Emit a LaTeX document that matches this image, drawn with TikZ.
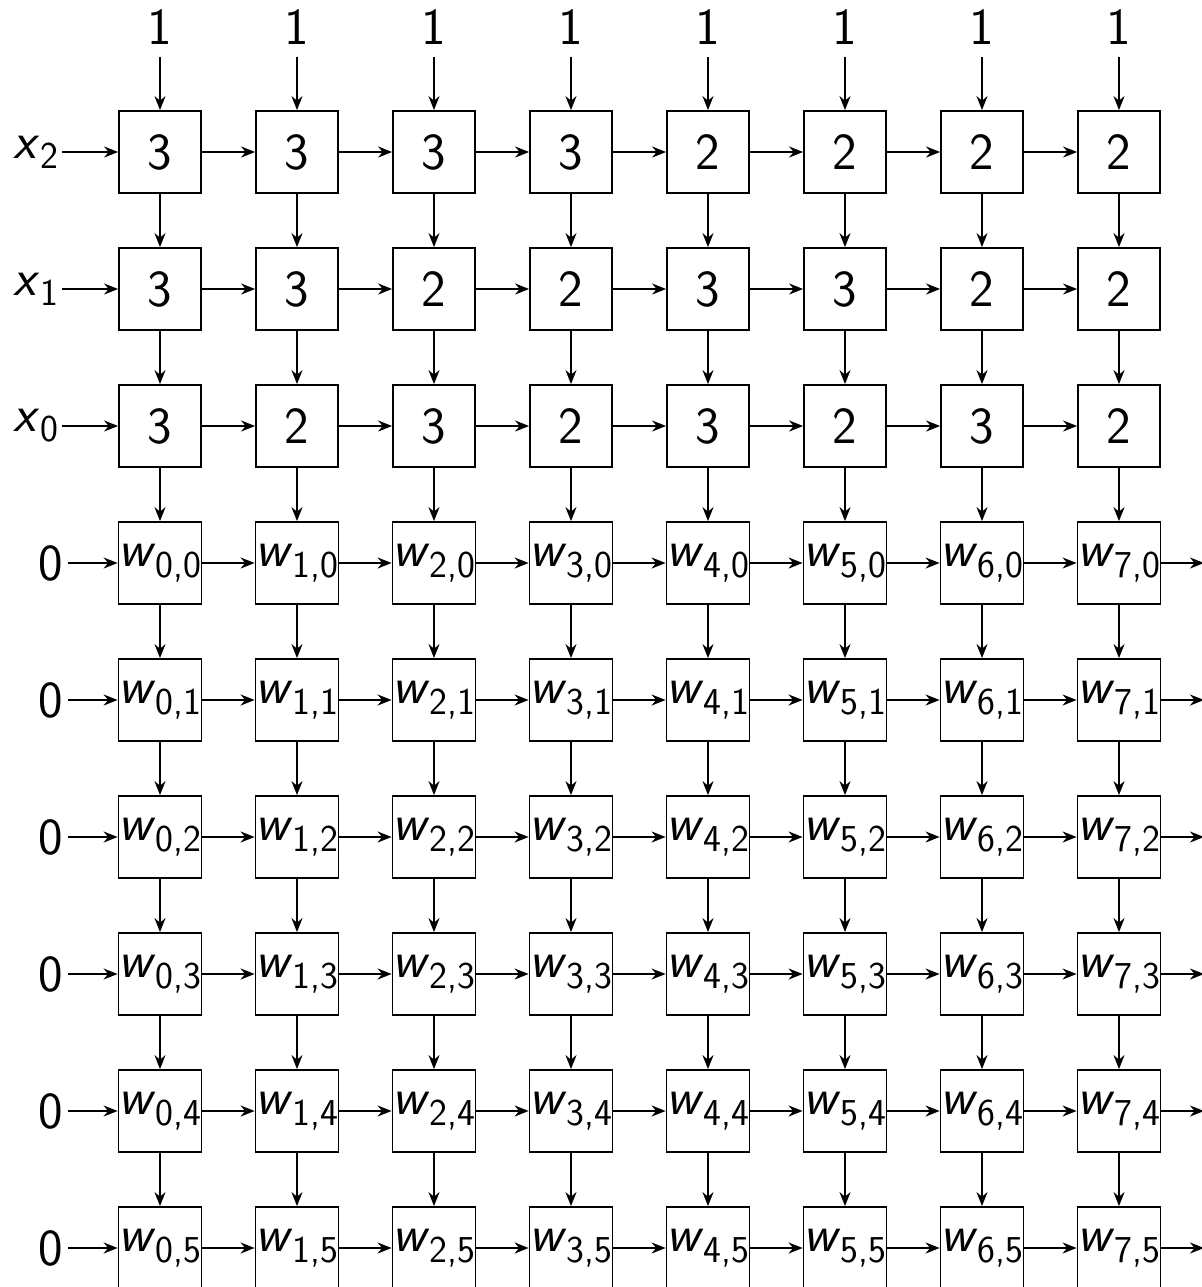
\documentclass[tikz,border=0pt]{standalone}
\usepackage{tikz}
\usetikzlibrary{arrows.meta,positioning}

\newcommand{\bigfont}{\fontsize{26}{28}\selectfont\sffamily}
\newcommand{\subfont}{\fontsize{19}{20}\selectfont\sffamily}
\newcommand{\wlab}[2]{\textit{w}\raisebox{-0.5ex}{\subfont #1,#2}}
\newcommand{\xlab}[1]{\textit{x}\raisebox{-0.45ex}{\subfont #1}}

\begin{document}
\begin{tikzpicture}[
  x=0.5pt,
  y=-0.5pt,
  cell/.style={draw, line width=0.9pt, minimum size=41pt, inner sep=0pt, font=\bigfont},
  lab/.style={font=\bigfont, inner sep=0pt},
  wire/.style={-{Stealth[length=7pt,width=5.5pt]}, line width=0.9pt}
]
\useasboundingbox (0,0) rectangle (1202,1287);
\clip (0,0) rectangle (1202,1287);
% count cells
\foreach \v [count=\c from 0] in {3,3,3,3,2,2,2,2}
  \node[cell] (c-\c-0) at (160+137*\c,152) {\v};
\foreach \v [count=\c from 0] in {3,3,2,2,3,3,2,2}
  \node[cell] (c-\c-1) at (160+137*\c,289) {\v};
\foreach \v [count=\c from 0] in {3,2,3,2,3,2,3,2}
  \node[cell] (c-\c-2) at (160+137*\c,426) {\v};
% weight cells
\foreach \r in {0,...,5} {
  \pgfmathtruncatemacro{\rr}{\r+3}
  \foreach \c in {0,...,7}
    \node[cell] (c-\c-\rr) at (160+137*\c,152+137*\rr) {\wlab{\c}{\r}};
}
% top inputs
\foreach \c in {0,...,7} {
  \node[lab] (top-\c) at (160+137*\c,27) {1};
  \draw[wire, shorten <=6pt] (top-\c) -- (c-\c-0);
}
% left inputs
\foreach \lab [count=\r from 0] in {2,1,0} {
  \pgfmathtruncatemacro{\rr}{\r}
  \node[lab] (in-\rr) at (36,152+137*\rr) {\xlab{\lab}};
}
\foreach \r in {3,...,8}
  \node[lab] (in-\r) at (51,152+137*\r) {0};
\foreach \r in {0,...,8}
  \draw[wire, shorten <=2pt] (in-\r) -- (c-0-\r);
% right outputs
\foreach \r in {3,...,8} {
  \coordinate (out-\r) at (1204,152+137*\r);
  \draw[wire] (c-7-\r) -- (out-\r);
}
% links between cells
\foreach \r in {0,...,8} {
  \foreach \c in {0,...,6} {
    \pgfmathtruncatemacro{\cc}{\c+1}
    \draw[wire] (c-\c-\r) -- (c-\cc-\r);
  }
}
\foreach \r in {0,...,7} {
  \pgfmathtruncatemacro{\rr}{\r+1}
  \foreach \c in {0,...,7}
    \draw[wire] (c-\c-\r) -- (c-\c-\rr);
}
\end{tikzpicture}
\end{document}
